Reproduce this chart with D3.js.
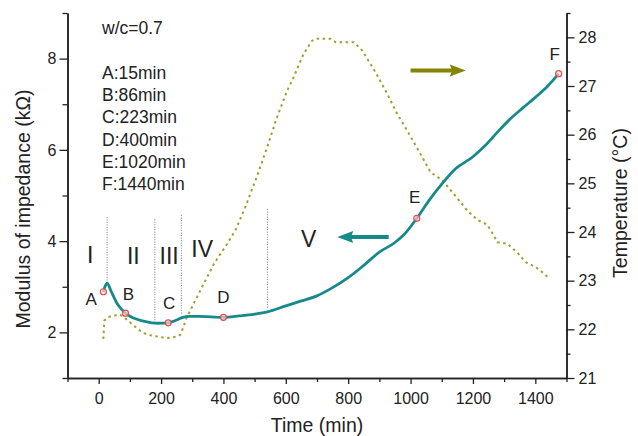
<!DOCTYPE html>
<html>
<head>
<meta charset="utf-8">
<script src="https://cdn.jsdelivr.net/npm/d3@7"></script>
<style>
  html, body { margin: 0; padding: 0; background: #fff; }
  svg { display: block; font-family: "Liberation Sans", Arial, sans-serif; }
</style>
</head>
<body>
<svg id="chart" width="638" height="436"></svg>
<script>
// Impedance modulus (left axis, kΩ) and temperature (right axis, °C) vs time
const impTime = [15, 20, 27, 40, 60, 86, 110, 140, 170, 190, 223, 250, 270, 290, 320, 360, 400, 450, 500, 541,
  600, 650, 700, 750, 800, 850, 900, 950, 980, 1020, 1060, 1100, 1140, 1200, 1240, 1280, 1320, 1360, 1400, 1440, 1475];
const impVal = [2.89, 3.0, 3.08, 2.9, 2.62, 2.42, 2.32, 2.25, 2.21, 2.2, 2.21, 2.27, 2.33, 2.35, 2.35, 2.34, 2.33, 2.36, 2.4, 2.45,
  2.58, 2.69, 2.8, 2.98, 3.2, 3.47, 3.76, 3.97, 4.15, 4.5, 4.9, 5.25, 5.56, 5.85, 6.1, 6.4, 6.68, 6.92, 7.15, 7.4, 7.67];

const tempTime = [15, 18, 30, 45, 69, 90, 112, 128, 155, 190, 220, 250, 262, 267, 283, 315, 369, 412, 438, 470, 505, 540,
  572, 604, 625, 657, 684, 700, 743, 760, 818, 845, 888, 925, 957, 995, 1032, 1064, 1102, 1139, 1182, 1214, 1246,
  1267, 1278, 1310, 1342, 1369, 1401, 1423, 1439];
const tempVal = [21.8, 22.18, 22.25, 22.28, 22.3, 22.2, 22.08, 21.99, 21.89, 21.85, 21.82, 21.85, 21.89, 21.97, 22.25, 22.66,
  23.34, 23.76, 24.03, 24.51, 25.1, 25.74, 26.36, 26.9, 27.18, 27.66, 27.93, 27.97, 27.97, 27.9, 27.9, 27.73, 27.28,
  26.84, 26.43, 26.02, 25.6, 25.23, 25.06, 24.78, 24.44, 24.25, 24.15, 23.93, 23.79, 23.76, 23.58, 23.38, 23.28, 23.17, 23.08];

// marked points A..F
const markNames = ['A', 'B', 'C', 'D', 'E', 'F'];
const markTime = [15, 86, 223, 400, 1020, 1475];
const markVal = [2.89, 2.42, 2.21, 2.33, 4.5, 7.67];
const markLabelTime = [-24, 95, 226, 400, 1013, 1462];
const markLabelVal = [2.59, 2.7, 2.51, 2.64, 4.84, 7.98];

// stage boundaries and stage names
const stageLineTime = [27, 180, 265, 541];
const stageLineTop = [4.53, 4.48, 4.57, 4.7];
const stageLineBottom = [3.08, 2.22, 2.38, 2.53];
const stageNames = ['I', 'II', 'III', 'IV', 'V'];
const stageTime = [-27, 111, 226, 332, 673];
const stageVal = [3.52, 3.49, 3.49, 3.65, 3.87];

const noteLines = ['w/c=0.7', '', 'A:15min', 'B:86min', 'C:223min', 'D:400min', 'E:1020min', 'F:1440min'];

const xMajor = [0, 200, 400, 600, 800, 1000, 1200, 1400];
const xMinor = [-100, 100, 300, 500, 700, 900, 1100, 1300, 1500];
const yLMajor = [2, 4, 6, 8];
const yLMinor = [1, 3, 5, 7, 9];
const yRMajor = [21, 22, 23, 24, 25, 26, 27, 28];
const yRMinor = [21.5, 22.5, 23.5, 24.5, 25.5, 26.5, 27.5, 28.5];

const TEAL = '#168a8b';
const OLIVE = '#a0a032';
const ARROW_OLIVE = '#848400';
const INK = '#222';

const svg = d3.select('#chart');
const M = { left: 67.5, right: 566.5, top: 13, bottom: 378 };

const x = d3.scaleLinear().domain([-100, 1500]).range([M.left, M.right]);
const yL = d3.scaleLinear().domain([1, 9]).range([M.bottom, M.top]);
const yR = d3.scaleLinear().domain([21, 28.5]).range([M.bottom, M.top]);

// stage divider lines (dotted)
svg.append('g').selectAll('line')
  .data(stageLineTime)
  .join('line')
  .attr('x1', d => x(d)).attr('x2', d => x(d))
  .attr('y1', (d, i) => yL(stageLineTop[i]))
  .attr('y2', (d, i) => yL(stageLineBottom[i]))
  .attr('stroke', '#777').attr('stroke-width', 1).attr('stroke-dasharray', '1,1.5');

// temperature (short-dashed olive line)
const tempData = tempTime.map((t, i) => [t, tempVal[i]]);
svg.append('path')
  .datum(tempData)
  .attr('fill', 'none')
  .attr('stroke', OLIVE)
  .attr('stroke-width', 2)
  .attr('stroke-dasharray', '2.5,3.5')
  .attr('d', d3.line().x(d => x(d[0])).y(d => yR(d[1])));

// impedance (teal)
const impData = impTime.map((t, i) => [t, impVal[i]]);
svg.append('path')
  .datum(impData)
  .attr('fill', 'none')
  .attr('stroke', TEAL)
  .attr('stroke-width', 2.8)
  .attr('stroke-linejoin', 'round')
  .attr('d', d3.line().x(d => x(d[0])).y(d => yL(d[1])).curve(d3.curveMonotoneX));

// markers
svg.append('g').selectAll('circle')
  .data(markTime)
  .join('circle')
  .attr('cx', d => x(d))
  .attr('cy', (d, i) => yL(markVal[i]))
  .attr('r', 3)
  .attr('fill', 'rgba(255,230,230,0.6)')
  .attr('stroke', '#f0474a')
  .attr('stroke-width', 1.2);

svg.append('g').selectAll('text')
  .data(markNames)
  .join('text')
  .attr('x', (d, i) => x(markLabelTime[i]))
  .attr('y', (d, i) => yL(markLabelVal[i]))
  .attr('text-anchor', 'middle')
  .attr('font-size', 17)
  .attr('fill', INK)
  .text(d => d);

svg.append('g').selectAll('text')
  .data(stageNames)
  .join('text')
  .attr('x', (d, i) => x(stageTime[i]))
  .attr('y', (d, i) => yL(stageVal[i]))
  .attr('text-anchor', 'middle')
  .attr('font-size', 23)
  .attr('fill', INK)
  .text(d => d);

// note block top-left
svg.append('g').selectAll('text')
  .data(noteLines)
  .join('text')
  .attr('x', 102)
  .attr('y', (d, i) => i === 0 ? 34 : 79 + (i - 2) * 22.2)
  .attr('font-size', 17.5)
  .attr('fill', INK)
  .text(d => d);

// direction arrows
function arrow(x1, y1, x2, y2, color) {
  const dir = Math.sign(x2 - x1);
  const headLen = 16, headHalf = 6;
  svg.append('line')
    .attr('x1', x1).attr('y1', y1).attr('x2', x2 - dir * headLen * 0.8).attr('y2', y2)
    .attr('stroke', color).attr('stroke-width', 4);
  svg.append('path')
    .attr('d', `M${x2},${y2} L${x2 - dir * headLen},${y2 - headHalf} L${x2 - dir * headLen * 0.85},${y2} L${x2 - dir * headLen},${y2 + headHalf} Z`)
    .attr('fill', color);
}
arrow(x(1000), yR(27.32), x(1177), yR(27.32), ARROW_OLIVE);
arrow(x(930), yL(4.09), x(765), yL(4.09), TEAL);

// axes
function styleAxis(g) {
  g.select('.domain').attr('stroke', INK).attr('stroke-width', 1.5);
  g.selectAll('.tick line').attr('stroke', INK).attr('stroke-width', 1.3);
  g.selectAll('.tick text').attr('fill', INK).attr('font-size', 16)
    .attr('font-family', '"Liberation Sans", Arial, sans-serif');
}

svg.append('g').attr('transform', `translate(0,${M.bottom})`)
  .call(d3.axisBottom(x).tickValues(xMinor).tickSize(4).tickSizeOuter(0).tickFormat(''))
  .call(styleAxis);
svg.append('g').attr('transform', `translate(0,${M.bottom})`)
  .call(d3.axisBottom(x).tickValues(xMajor).tickSize(6).tickSizeOuter(0).tickPadding(9).tickFormat(d3.format('d')))
  .call(styleAxis);

svg.append('g').attr('transform', `translate(${M.left},0)`)
  .call(d3.axisLeft(yL).tickValues(yLMinor).tickSize(5).tickSizeOuter(0).tickFormat(''))
  .call(styleAxis);
svg.append('g').attr('transform', `translate(${M.left},0)`)
  .call(d3.axisLeft(yL).tickValues(yLMajor).tickSize(8).tickSizeOuter(0).tickPadding(3).tickFormat(d3.format('d')))
  .call(styleAxis);

svg.append('g').attr('transform', `translate(${M.right},0)`)
  .call(d3.axisRight(yR).tickValues(yRMinor).tickSize(4).tickSizeOuter(0).tickFormat(''))
  .call(styleAxis);
svg.append('g').attr('transform', `translate(${M.right},0)`)
  .call(d3.axisRight(yR).tickValues(yRMajor).tickSize(8).tickSizeOuter(0).tickPadding(4).tickFormat(d3.format('d')))
  .call(styleAxis);

// axis titles
svg.append('text')
  .attr('x', (M.left + M.right) / 2).attr('y', 432)
  .attr('text-anchor', 'middle').attr('font-size', 19.5).attr('fill', INK)
  .text('Time (min)');
svg.append('text')
  .attr('transform', 'translate(30,209) rotate(-90)')
  .attr('text-anchor', 'middle').attr('font-size', 19.5).attr('fill', INK)
  .text('Modulus of impedance (kΩ)');
svg.append('text')
  .attr('transform', 'translate(627,203) rotate(-90)')
  .attr('text-anchor', 'middle').attr('font-size', 19.5).attr('fill', INK)
  .text('Temperature (°C)');
</script>
</body>
</html>
